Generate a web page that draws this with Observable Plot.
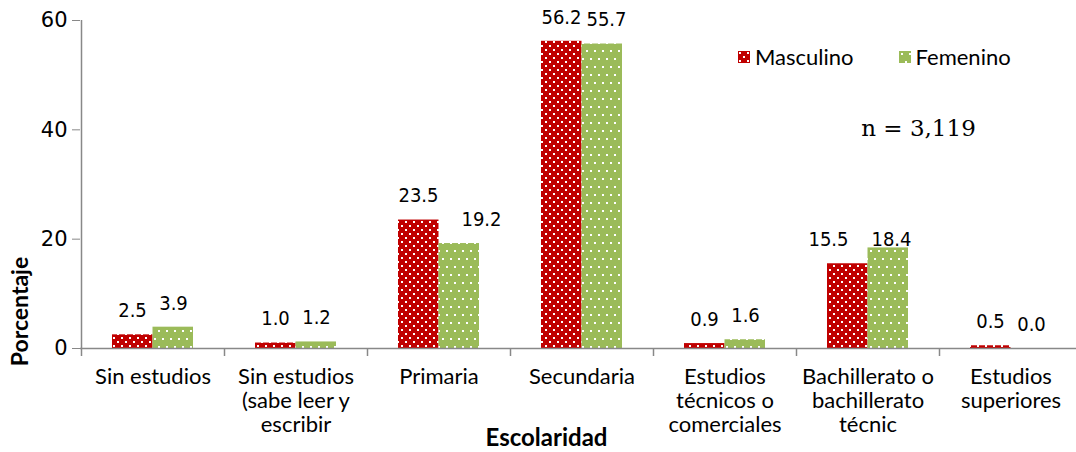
<!DOCTYPE html>
<html><head><meta charset="utf-8">
<script src="https://cdn.jsdelivr.net/npm/d3@7"></script>
<script src="https://cdn.jsdelivr.net/npm/@observablehq/plot@0.6"></script>
<style>
body{margin:0;background:#fff;overflow:hidden}
#chart{position:relative;width:1076px;height:452px}
#chart svg{overflow:visible}
[aria-label="y-axis tick"]{stroke:#888}
[aria-label="y-axis tick label"]{font-family:"DejaVu Sans",sans-serif;font-size:21px;fill:#000}
[aria-label="x-axis tick label"]{font-family:Lato,sans-serif;font-size:22px;fill:#000}
.legend{position:absolute;top:46px;left:738px;display:flex;align-items:center;font-family:Lato,sans-serif;font-size:22px;color:#000;line-height:22px}
.legend .item{display:flex;align-items:center}
.legend svg{display:block;margin-right:5px}
</style></head><body>
<div id="chart"></div>
<script>
const categories = ["Sin estudios","Sin estudios (sabe leer y escribir","Primaria","Secundaria","Estudios técnicos o comerciales","Bachillerato o bachillerato técnic","Estudios superiores"];
const tickLabels = ["Sin estudios","Sin estudios\n(sabe leer y\nescribir","Primaria","Secundaria","Estudios\ntécnicos o\ncomerciales","Bachillerato o\nbachillerato\ntécnic","Estudios\nsuperiores"];
const series = ["Masculino","Femenino"];
const masculino = [2.5,1.0,23.5,56.2,0.9,15.5,0.5];
const femenino = [3.9,1.2,19.2,55.7,1.6,18.4,0.0];
const yTicks = [0,20,40,60];
const note = "n = 3,119";

// label nudges (style only, in px) as placed in the original
const nudgeM = {dx:[0,0,0,0,0,-19,0], dy:[0,0,0,0,0,0,0]};
const nudgeF = {dx:[0,0,22,4,0,3,0], dy:[0,0,0,0,0,15.5,0]};

const rowsM = categories.map((c,i)=>({cat:c, serie:series[0], value:masculino[i], i}));
const rowsF = categories.map((c,i)=>({cat:c, serie:series[1], value:femenino[i], i}));
const gray = "#888";

function valueLabels(rows, baseDx, nudge){
  return rows.map(r => Plot.text([r],{x:"cat", y:"value", text:d=>d.value.toFixed(1),
    dx: baseDx + nudge.dx[r.i], dy: -24 + nudge.dy[r.i], lineAnchor:"middle",
    fontFamily:"DejaVu Sans Condensed, DejaVu Sans", fontSize:20, fill:"#000"}));
}

const chart = Plot.plot({
  width:1076, height:452,
  marginLeft:80, marginRight:0, marginTop:20, marginBottom:104,
  style:{fontFamily:"Lato, sans-serif", fontSize:"22px", background:"#fff", color:"#000"},
  x:{type:"band", domain:categories, range:[80.5,1081.5], padding:0},
  y:{domain:[0,60]},
  marks:[
    Plot.barY(rowsM,{x:"cat", y:"value", fill:"url(#patM)", insetLeft:31, insetRight:71.5}),
    Plot.barY(rowsF,{x:"cat", y:"value", fill:"url(#patF)", insetLeft:71.5, insetRight:31}),
    Plot.ruleY([0],{stroke:gray, strokeWidth:1.5}),
    Plot.ruleX([categories[0]],{x:d=>d, dx:-71.5, stroke:gray, strokeWidth:1.5}),
    Plot.ruleX(categories,{x:d=>d, dx:-71.5, stroke:gray, strokeWidth:1.5, insetTop:328, insetBottom:-8}),
    Plot.axisY({ticks:yTicks, tickSize:8, tickPadding:5, label:null, tickFormat:d=>String(d)}),
    Plot.axisX({tickSize:0, tickPadding:19, label:null, lineHeight:1.08, tickFormat:d=>tickLabels[categories.indexOf(d)]}),
    ...valueLabels(rowsM, -20.5, nudgeM),
    ...valueLabels(rowsF, 20.5, nudgeF),
    Plot.text([note],{frameAnchor:"top-right", dx:-158, dy:108, textAnchor:"middle", lineAnchor:"middle", fontFamily:"DejaVu Serif", fontSize:23, fill:"#000"}),
    Plot.text(["Escolaridad"],{frameAnchor:"bottom", dx:-32, dy:90, lineAnchor:"middle", fontWeight:"bold", fontSize:24, fill:"#000"}),
    Plot.text(["Porcentaje"],{frameAnchor:"bottom-left", dx:-60, dy:-37, rotate:-90, textAnchor:"middle", lineAnchor:"middle", fontWeight:"bold", fontSize:23, fill:"#000"})
  ]
});

const svg = d3.select(chart);
const defs = svg.insert("defs", ":first-child");
const pm = defs.append("pattern").attr("id","patM").attr("patternUnits","userSpaceOnUse").attr("width",8).attr("height",8);
pm.append("rect").attr("width",8).attr("height",8).attr("fill","#C00000");
pm.append("rect").attr("x",1).attr("y",1).attr("width",2).attr("height",2).attr("fill","#fff");
pm.append("rect").attr("x",5).attr("y",5).attr("width",2).attr("height",2).attr("fill","#fff");
const pf = defs.append("pattern").attr("id","patF").attr("patternUnits","userSpaceOnUse").attr("width",8).attr("height",16);
pf.append("rect").attr("width",8).attr("height",16).attr("fill","#9BBB59");
pf.append("rect").attr("x",2).attr("y",2).attr("width",2).attr("height",2).attr("fill","#fff");
pf.append("rect").attr("x",6).attr("y",10).attr("width",2).attr("height",2).attr("fill","#fff");

const root = document.getElementById("chart");
root.appendChild(chart);

const legend = document.createElement("div");
legend.className = "legend";
series.forEach((s,i)=>{
  const item = document.createElement("div");
  item.className = "item";
  if(i>0) item.style.marginLeft = "45px";
  item.innerHTML = `<svg width="12" height="12"><rect width="12" height="12" fill="url(#${i===0?'patM':'patF'})"/></svg><span>${s}</span>`;
  legend.appendChild(item);
});
root.appendChild(legend);
</script>
</body></html>
